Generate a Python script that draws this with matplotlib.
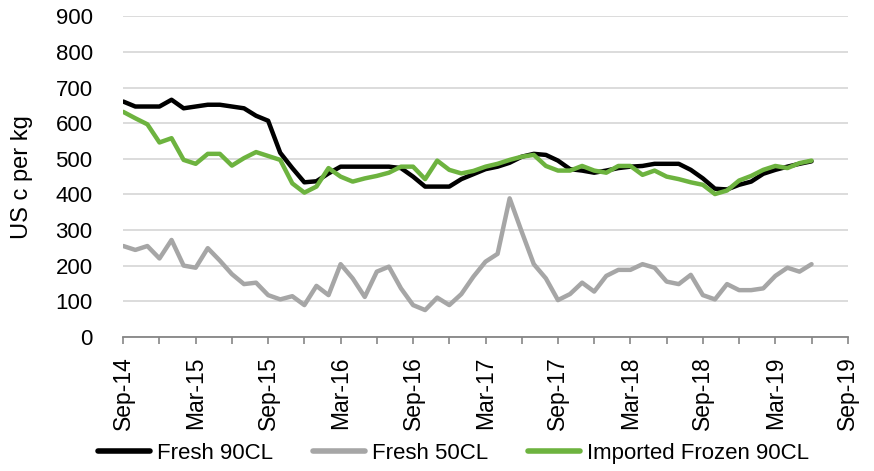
import matplotlib
matplotlib.use("Agg")
import matplotlib.pyplot as plt
import numpy as np

# ---- data (monthly, Sep-14 .. Jun-19) ----
fresh_90cl = [661, 647, 647, 647, 666, 642, 647, 652, 652, 647,
              642, 621, 607, 517, 474, 434, 437, 459, 478, 478,
              478, 478, 478, 474, 450, 422, 422, 422, 443, 457,
              471, 478, 489, 506, 514, 511, 495, 471, 467, 461,
              467, 474, 478, 480, 486, 486, 486, 469, 445, 416,
              414, 427, 436, 458, 469, 478, 486, 493]
fresh_50cl = [255, 244, 255, 220, 272, 200, 194, 249, 214, 176,
              148, 152, 117, 105, 114, 89, 143, 117, 204, 164,
              112, 183, 197, 136, 89, 75, 110, 89, 120, 169,
              211, 233, 389, 295, 204, 164, 103, 120, 152, 127,
              171, 188, 188, 204, 194, 155, 148, 174, 117, 105,
              148, 131, 131, 136, 171, 194, 183, 204]
imported_frozen_90cl = [632, 614, 597, 546, 558, 497, 486, 514, 514, 481,
                        502, 519, 508, 497, 431, 405, 422, 474, 450, 436,
                        445, 452, 461, 478, 478, 443, 495, 469, 459, 466,
                        478, 486, 497, 506, 511, 480, 467, 467, 480, 467,
                        461, 480, 480, 455, 467, 450, 443, 434, 427, 401,
                        411, 439, 452, 469, 480, 474, 488, 495]
series_names = ["Fresh 90CL", "Fresh 50CL", "Imported Frozen 90CL"]
tick_labels = ["Sep-14", "Mar-15", "Sep-15", "Mar-16", "Sep-16", "Mar-17",
               "Sep-17", "Mar-18", "Sep-18", "Mar-19", "Sep-19"]
y_ticks = [0, 100, 200, 300, 400, 500, 600, 700, 800, 900]

plt.rcParams['font.family'] = ['Liberation Sans', 'DejaVu Sans']

fig = plt.figure(figsize=(8.74, 4.71), dpi=100)
ax = fig.add_axes([0.141, 0.285, 0.829, 0.680])

months = np.arange(len(fresh_90cl))
ax.plot(months, fresh_90cl, color='#000000', lw=3.2, label=series_names[0],
        solid_joinstyle='round', solid_capstyle='round', zorder=3)
ax.plot(months, fresh_50cl, color='#a6a6a6', lw=3.2, label=series_names[1],
        solid_joinstyle='round', solid_capstyle='round', zorder=3)
ax.plot(months, imported_frozen_90cl, color='#6db33f', lw=3.2, label=series_names[2],
        solid_joinstyle='round', solid_capstyle='round', zorder=4)

ax.set_xlim(0, 60)
ax.set_ylim(0, 900)
ax.set_yticks(y_ticks)
ax.set_xticks(np.arange(0, 61, 6))
ax.set_xticklabels(tick_labels, rotation=90, fontsize=16.5)
ax.set_xticks(np.arange(3, 61, 6), minor=True)
ax.tick_params(axis='x', which='both', direction='out', length=5, width=1.2,
               color='#868686', pad=9)
ax.tick_params(axis='y', length=0, pad=22, labelsize=16)

ax.yaxis.grid(True, color='#d9d9d9', lw=1.3)
ax.set_axisbelow(True)
for s in ['top', 'right', 'left']:
    ax.spines[s].set_visible(False)
ax.spines['bottom'].set_color('#868686')
ax.spines['bottom'].set_linewidth(1.3)
ax.spines['bottom'].set_zorder(5)

ax.set_ylabel("US c per kg", fontsize=17)
ax.yaxis.set_label_coords(-0.124, 0.5)

leg = fig.legend(loc='center', bbox_to_anchor=(0.519, 0.038), ncol=3,
                 frameon=False, fontsize=16, handlelength=2.35,
                 handletextpad=0.3, columnspacing=1.8)
for line in leg.get_lines():
    line.set_linewidth(4)

fig.savefig("out.png", dpi=100)
